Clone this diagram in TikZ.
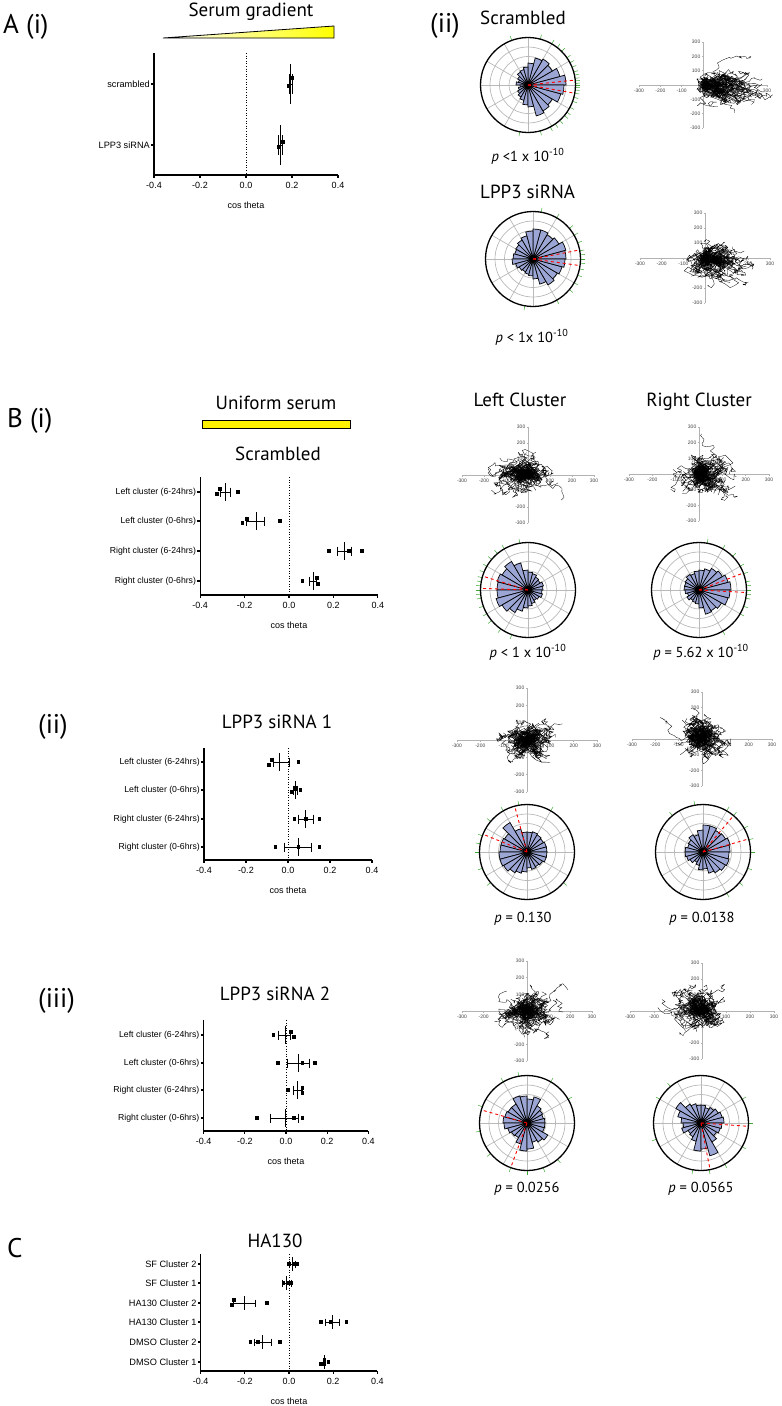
\documentclass[tikz,border=0pt]{standalone}
\usepackage{fontspec}
\setmainfont{Liberation Sans}
\newfontfamily\titlefont{PT Sans}
\usepackage{tikz}

\definecolor{petalblue}{RGB}{156,166,212}
\definecolor{tickgreen}{RGB}{60,170,50}

\tikzset{
  ttl/.style={font=\titlefont\fontsize{19}{19}\selectfont, anchor=base, inner sep=0pt},
  panel/.style={font=\titlefont\fontsize{27}{27}\selectfont, anchor=base west, inner sep=0pt},
  pval/.style={font=\titlefont\fontsize{14.5}{15}\selectfont, anchor=base, inner sep=0pt},
  catlbl/.style={font=\fontsize{8.7}{9}\selectfont, anchor=east, inner sep=1pt},
  ticklbl/.style={font=\fontsize{9}{9}\selectfont, inner sep=0pt},
  axisln/.style={line width=1.1pt},
  zeroln/.style={dotted, line width=0.6pt},
  errbar/.style={line width=0.9pt},
  rosegrid/.style={gray!55, line width=0.7pt},
  petal/.style={fill=petalblue, draw=black, line width=0.7pt},
  ci/.style={red, dashed, line width=0.9pt},
  gtick/.style={tickgreen, line width=0.5pt},
  rim/.style={line width=1.3pt},
  trkaxis/.style={gray!60, line width=0.6pt},
  trktick/.style={font=\fontsize{5}{5}\selectfont, text=black!75, inner sep=0.5pt},
  track/.style={line width=0.3pt, line join=round},
}

\newcommand{\roseplot}[4]{%
  \begin{scope}[shift={#1}, yscale=-1]
    \foreach \r in {9.5,19,28.5,38} \draw[rosegrid] (0,0) circle (\r);
    \foreach \a in {0,30,...,330} \draw[rosegrid] (0,0) -- (\a:47.5);
    \foreach \rr [count=\i from 0] in {#2}
      \draw[petal] (0,0) -- ({\i*15}:\rr) arc[start angle={\i*15}, delta angle=15, radius=\rr] -- cycle;
    \fill (0,0) circle (4);
    \foreach \a in {#3} \draw[ci] (0,0) -- (\a:47.5);
    \foreach \a in {#4} \draw[gtick] (\a:47.5) -- (\a:52);
    \draw[rim] (0,0) circle (47.5);
  \end{scope}}

\newcommand{\trackplot}[7]{%
  \begin{scope}[shift={#2}]
    \draw[trkaxis] (-#3,0) -- (#3,0);
    \draw[trkaxis] (0,-#4) -- (0,#4);
    \foreach \k/\t [count=\c] in {-3/-300,-2/-200,-1/-100,1/100,2/200,3/300} {
      \draw[trkaxis] ({\k*#3/3},0) -- ++(0,1.5);
      \draw[trkaxis] (0,{-\k*#4/3}) -- ++(-1.5,0);
      \node[trktick] (#1x\c) at ({\k*#3/3},6) {\t};
      \node[trktick, anchor=east] (#1y\c) at (-2,{-\k*#4/3}) {\t};
    }
    \pgfmathsetseed{#5}
    \foreach \n in {1,...,60}
      \draw[track] (0,0) \foreach \s in {1,...,24} { -- ++({5*rand+(#6)},{4*rand+(#7)}) };
  \end{scope}}

\newcommand{\dotaxes}[3]{%
  \draw[axisln] (-0.4,#2) -- (-0.4,#3) -- (0.4,#3);
  \draw[zeroln] (0,#2) -- (0,#3);
  \foreach \v [count=\c] in {-0.4,-0.2,0.0,0.2,0.4} {
    \draw[axisln] (\v,#3) -- ++(0,3);
    \node[ticklbl] (#1t\c) at (\v,{#3+10}) {\v};
  }
  \node[ticklbl] (#1ax) at (0,{#3+30}) {cos theta};}

\newcommand{\cat}[3]{%
  \draw[axisln] (-0.4,#2) -- ++(-3pt,0pt);
  \node[catlbl] (#1) at ([xshift=-3pt]-0.4,#2) {#3};}

\newcommand{\drow}[6]{%
  \draw[errbar] (#3,#1) -- (#4,#1)
    (#3,{#1-#5/2}) -- (#3,{#1+#5/2}) (#4,{#1-#5/2}) -- (#4,{#1+#5/2})
    (#2,{#1-#5}) -- (#2,{#1+#5});
  \foreach \p/\q in {#6} \fill (\p,{#1+\q}) ++(-1.8pt,-1.8pt) rectangle ++(3.6pt,3.6pt);}

\begin{document}
\begin{tikzpicture}[x=1pt, y=-1pt]
\useasboundingbox (0,0) rectangle (782,1406);

\node[panel] (pA) at (3,33) {A (i)};
\node[ttl] (tgrad) at (251,16) {Serum gradient};
\shadedraw[left color=white, right color=yellow, line width=0.8pt] (163,38) -- (334,26) -- (334,38) -- cycle;
\begin{scope}[shift={(246,0)}, x=230pt, catlbl/.append style={font=\fontsize{9.2}{10}\selectfont}]
  \dotaxes{a}{53}{175}
  \cat{ac1}{84}{scrambled}
  \cat{ac2}{145}{LPP3 siRNA}
  \drow{84}{0.195}{0.19}{0.2}{20}{0.2/-6,0.188/2}
  \drow{145}{0.15}{0.14}{0.16}{20}{0.16/-3,0.142/2}
\end{scope}

\node[panel] (pAii) at (430,32) {(ii)};
\node[ttl, anchor=base west] (tascr) at (480,24) {Scrambled};
\roseplot{(528,85)}{38,33,28,30,28,22,18,16,15,12,10,12,8,10,12,14,16,20,22,32,30,28,34,36}{6,-10}{-100,-75,-62,-55,-48,-40,-35,-28,-20,-15,-10,-6,-3,0,2,5,8,12,16,22,28,35,45,52,60,75,110}
\trackplot{ta}{(703,85)}{64}{43}{11}{1.3}{0.1}
\node[pval] (pa1) at (528,161) {{\itshape p} <1 x 10\textsuperscript{-10}};
\node[ttl, anchor=base west] (talpp) at (480,198) {LPP3 siRNA};
\roseplot{(533,259)}{33,34,30,28,30,30,28,24,22,20,19,20,21,18,16,15,16,17,20,26,30,28,30,32}{11,-8}{-100,-60,-40,-30,-20,-12,-5,0,5,10,20,30,40,60,80}
\trackplot{tb}{(705,258)}{65}{45}{23}{0.6}{0.15}
\node[pval] (pa2) at (532,342) {{\itshape p} < 1x 10\textsuperscript{-10}};

\node[panel] (pB) at (7,427) {B (i)};
\node[ttl] (tuni) at (276,409) {Uniform serum};
\draw[fill=yellow, line width=0.9pt] (202,420) rectangle (350,428);
\node[ttl] (tbscr) at (278,460) {Scrambled};
\begin{scope}[shift={(289,0)}, x=222pt]
  \dotaxes{b}{477}{595}
  \cat{bc1}{492}{Left cluster (6-24hrs)}
  \cat{bc2}{521}{Left cluster (0-6hrs)}
  \cat{bc3}{551}{Right cluster (6-24hrs)}
  \cat{bc4}{581}{Right cluster (0-6hrs)}
  \drow{492}{-0.285}{-0.31}{-0.265}{9}{-0.325/2,-0.31/-3,-0.23/0}
  \drow{521}{-0.145}{-0.19}{-0.11}{9}{-0.21/2,-0.19/-2,-0.04/0}
  \drow{551}{0.25}{0.22}{0.28}{9}{0.18/0,0.27/0,0.33/0}
  \drow{581}{0.11}{0.09}{0.125}{9}{0.06/0,0.125/-3,0.13/3}
\end{scope}

\node[ttl] (tlc) at (520,406) {Left Cluster};
\node[ttl] (trc) at (699,406) {Right Cluster};
\trackplot{tc}{(528,475)}{66}{48}{37}{-0.4}{0}
\trackplot{td}{(699,474)}{70}{47}{41}{0.4}{0}
\roseplot{(528,590)}{15,16,14,15,17,18,20,28,33,30,32,31,31,33,30,26,22,18,16,14,12,13,15,14}{163,178}{100,120,130,140,150,158,165,170,175,180,185,190,200,210,220,235,250}
\roseplot{(699,590)}{32,30,27,25,22,20,19,17,18,16,15,15,14,12,14,12,13,14,18,25,24,26,30,31}{21,-3}{-60,-30,-20,-10,-5,0,5,10,20,30,45,60,80}
\node[pval] (pb1) at (528,657) {{\itshape p} < 1 x 10\textsuperscript{-10}};
\node[pval] (pb2) at (701,657) {{\itshape p} = 5.62 x 10\textsuperscript{-10}};

\node[panel] (pBii) at (38,733) {(ii)};
\node[ttl] (tsi1) at (277,728) {LPP3 siRNA 1};
\begin{scope}[shift={(288,0)}, x=210pt]
  \dotaxes{c}{748}{860}
  \cat{cc1}{762}{Left cluster (6-24hrs)}
  \cat{cc2}{790}{Left cluster (0-6hrs)}
  \cat{cc3}{819}{Right cluster (6-24hrs)}
  \cat{cc4}{847}{Right cluster (0-6hrs)}
  \drow{762}{-0.04}{-0.07}{0.005}{9}{-0.09/3,-0.075/-2,0.05/0}
  \drow{790}{0.035}{0.025}{0.045}{9}{0.02/2,0.035/-2,0.06/0}
  \drow{819}{0.085}{0.05}{0.12}{9}{0.03/0,0.085/0,0.15/0}
  \drow{847}{0.05}{-0.015}{0.11}{9}{-0.06/0,0.05/0,0.15/0}
\end{scope}
\trackplot{te}{(527,740)}{70}{52}{53}{0}{0}
\trackplot{tf}{(702,739)}{70}{47}{67}{0}{-0.1}
\roseplot{(527,852)}{20,20,19,20,21,20,20,24,34,26,27,27,28,28,27,24,22,20,16,18,17,18,20,20}{105,158}{-40,60,100,120,140,160,170,180,200,220}
\roseplot{(703,852)}{27,28,26,25,27,27,22,18,20,17,16,18,18,17,15,12,14,18,17,22,24,26,27,26}{50,16}{-60,-40,-20,0,15,30,50,60,100,130}
\node[pval] (pc1) at (523,922) {{\itshape p} = 0.130};
\node[pval] (pc2) at (702,922) {{\itshape p} = 0.0138};

\node[panel] (pBiii) at (38,1007) {(iii)};
\node[ttl] (tsi2) at (275,1000) {LPP3 siRNA 2};
\begin{scope}[shift={(286,0)}, x=206pt]
  \dotaxes{d}{1020}{1131}
  \cat{dc1}{1035}{Left cluster (6-24hrs)}
  \cat{dc2}{1063}{Left cluster (0-6hrs)}
  \cat{dc3}{1090}{Right cluster (6-24hrs)}
  \cat{dc4}{1118}{Right cluster (0-6hrs)}
  \drow{1035}{-0.005}{-0.035}{0.02}{9}{-0.06/0,0.025/-3,0.04/2}
  \drow{1063}{0.06}{0.005}{0.115}{9}{-0.04/0,0.08/0,0.14/0}
  \drow{1090}{0.055}{0.035}{0.08}{9}{0.01/0,0.08/-2,0.08/3}
  \drow{1118}{-0.005}{-0.075}{0.06}{9}{-0.14/0,0.04/0,0.08/0}
\end{scope}
\trackplot{tg}{(527,1011)}{65}{50}{71}{0}{0}
\trackplot{th}{(702,1011)}{72}{48}{89}{-0.25}{-0.1}
\roseplot{(527,1123)}{18,17,18,20,27,24,27,28,22,22,23,24,23,20,18,17,22,28,26,20,22,24,18,18}{164,250}{30,60,100,120,160,190,220,250,270,290,310}
\roseplot{(701,1123)}{23,22,20,18,16,18,18,20,22,29,24,20,18,20,15,16,19,28,26,34,22,18,20,21}{-4,-79}{-100,-80,-60,-30,0,30,130,150,200}
\node[pval] (pd1) at (527,1192) {{\itshape p} = 0.0256};
\node[pval] (pd2) at (701,1192) {{\itshape p} = 0.0565};

\node[panel] (pC) at (7,1257) {C};
\node[ttl] (tha) at (275,1247) {HA130};
\begin{scope}[shift={(289,0)}, x=221pt, catlbl/.append style={font=\fontsize{9.2}{10}\selectfont}]
  \dotaxes{e}{1254}{1371}
  \cat{ec1}{1264}{SF Cluster 2}
  \cat{ec2}{1283}{SF Cluster 1}
  \cat{ec3}{1303}{HA130 Cluster 2}
  \cat{ec4}{1322}{HA130 Cluster 1}
  \cat{ec5}{1342}{DMSO Cluster 2}
  \cat{ec6}{1362}{DMSO Cluster 1}
  \drow{1264}{0.015}{0.0}{0.03}{7}{0.0/0,0.02/0,0.035/0}
  \drow{1283}{-0.01}{-0.03}{0.01}{7}{-0.025/0,-0.005/0,0.012/0}
  \drow{1303}{-0.2}{-0.25}{-0.15}{7}{-0.26/2,-0.25/-3,-0.1/0}
  \drow{1322}{0.195}{0.165}{0.23}{7}{0.145/0,0.19/0,0.26/0}
  \drow{1342}{-0.12}{-0.155}{-0.08}{7}{-0.175/0,-0.14/0,-0.04/0}
  \drow{1362}{0.16}{0.155}{0.165}{7}{0.145/2,0.16/-2,0.178/0}
\end{scope}
\end{tikzpicture}
\end{document}
